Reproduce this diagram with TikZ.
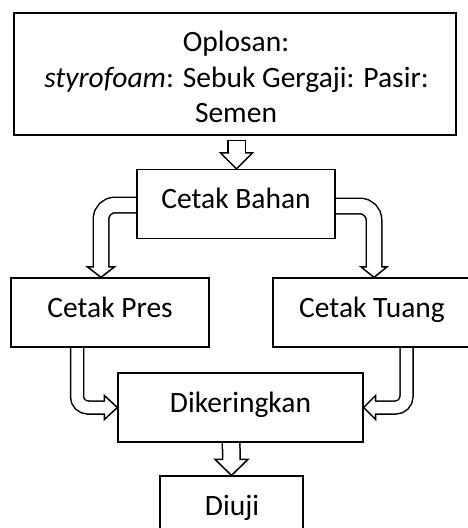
\documentclass[tikz,border=0pt]{standalone}
\usepackage{fontspec}
\setmainfont{Carlito}
\usetikzlibrary{calc,backgrounds}
\tikzset{
  box/.style={draw=black, line width=1.25pt, fill=white, inner sep=0pt, minimum height=69pt},
  txt/.style={anchor=base, inner sep=0pt, font=\fontsize{29.5}{36}\selectfont},
  headst/.style={fill=white, draw=black, line width=1.5pt, line join=miter},
  shaftst/.style 2 args={draw=white, line width=#1pt, rounded corners=#2pt, shorten <=1.5pt,
    preaction={draw=black, line width=#1pt+3pt, shorten <=0pt, shorten >=1.8pt}},
}
\newcommand\hdown[3]{\filldraw[headst] ($(#1)+(-#2,-#3)$) -- (#1) -- ($(#1)+(#2,-#3)$) -- cycle;}
\newcommand\hright[3]{\filldraw[headst] ($(#1)+(-#3,-#2)$) -- (#1) -- ($(#1)+(-#3,#2)$) -- cycle;}
\newcommand\hleft[3]{\filldraw[headst] ($(#1)+(#3,-#2)$) -- (#1) -- ($(#1)+(#3,#2)$) -- cycle;}
\begin{document}
\begin{tikzpicture}[x=1pt,y=-1pt]
\useasboundingbox (0,0) rectangle (467,528);
% boxes
\node[box, minimum width=442pt, minimum height=122pt] (top) at (235,74) {};
\node[box, minimum width=198pt] (cb) at (236,204) {};
\node[box, minimum width=198pt] (cp) at (110,312.5) {};
\node[box, minimum width=198pt] (ct) at (372,312.5) {};
\node[box, minimum width=245pt] (dk) at (240.5,407.5) {};
\node[box, minimum width=143pt] (dj) at (231.5,510.5) {};
% texts
\node[txt] (t1) at (236,51.5) {Oplosan:};
\node[txt] (t2) at (236.5,87) {\textit{styrofoam}: Sebuk Gergaji: Pasir:};
\node[txt] (t3) at (236,122.5) {Semen};
\node[txt] (tcb) at (236,208) {Cetak Bahan};
\node[txt] (tcp) at (110,317) {Cetak Pres};
\node[txt] (tct) at (372,317) {Cetak Tuang};
\node[txt] (tdk) at (240.5,412) {Dikeringkan};
\node[txt] (tdj) at (232,515) {Diuji};
% block arrows
\begin{scope}[on background layer]
  % top -> cetak bahan
  \coordinate (a1s) at ($(top.south)+(1.5,4)$);
  \coordinate (a1t) at ($(cb.north)+(0.5,0)$);
  \hdown{a1t}{16}{16}
  \draw[shaftst={16}{0}] (a1s) -- ($(a1t)+(0,-14.2)$);
  % cetak bahan -> cetak pres
  \coordinate (a2s) at ($(cb.west)+(6,1)$);
  \coordinate (a2t) at ($(cp.north)+(-9,0)$);
  \hdown{a2t}{13.5}{10.5}
  \draw[shaftst={14}{14}] (a2s) -| ($(a2t)+(0,-8.7)$);
  % cetak bahan -> cetak tuang
  \coordinate (a3s) at ($(cb.east)+(-6,2)$);
  \coordinate (a3t) at ($(ct.north)+(2,0)$);
  \hdown{a3t}{13}{10.5}
  \draw[shaftst={14}{14}] (a3s) -| ($(a3t)+(0,-8.7)$);
  % cetak pres -> dikeringkan
  \coordinate (a4s) at ($(cp.south)+(-33,-6)$);
  \coordinate (a4t) at (dk.west);
  \hright{a4t}{12}{13}
  \draw[shaftst={11.5}{11}] (a4s) |- ($(a4t)+(-11.2,0)$);
  % cetak tuang -> dikeringkan
  \coordinate (a5s) at ($(ct.south)+(34.5,-6)$);
  \coordinate (a5t) at (dk.east);
  \hleft{a5t}{12}{12}
  \draw[shaftst={11.5}{11}] (a5s) |- ($(a5t)+(10.2,0)$);
  % dikeringkan -> diuji
  \coordinate (a6s) at ($(dk.south)+(-9.5,-6)$);
  \coordinate (a6t) at (dj.north);
  \hdown{a6t}{16.5}{16}
  \draw[shaftst={16}{0}] (a6s) -- ($(a6t)+(0,-14.2)$);
\end{scope}
\end{tikzpicture}
\end{document}
